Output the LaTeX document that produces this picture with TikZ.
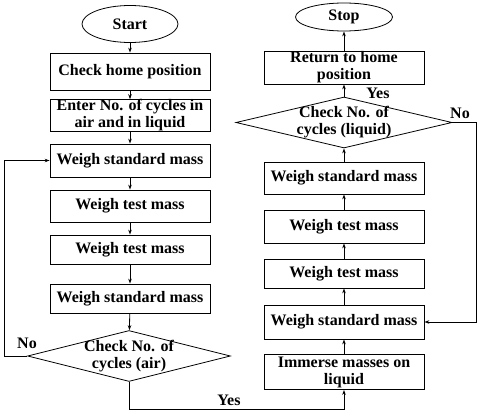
\documentclass[tikz,border=0pt]{standalone}
\usepackage{fontspec}
\setmainfont{Liberation Serif}
\usetikzlibrary{arrows.meta,positioning,shapes.geometric}

\begin{document}
\begin{tikzpicture}[x=1pt, y=-1pt, >={Stealth[length=5pt,width=3.5pt]},
  every node/.style={font=\fontsize{16}{17}\selectfont\bfseries},
  procbox/.style={draw, line width=0.8pt, minimum width=160pt, inner sep=0pt, align=center},
  termbox/.style={draw, ellipse, line width=0.8pt, inner sep=0pt},
  decbox/.style={draw, diamond, line width=0.8pt, inner sep=0pt},
  flow/.style={->, line width=0.8pt}]

\useasboundingbox (0,0) rectangle (480,412);

% Left column: air cycles
\node[termbox, minimum width=96pt, minimum height=37pt] (start) at (130,24) {Start};
\node[procbox, minimum height=37pt] (home) at (130,71.5) {Check home position};
\node[procbox, minimum height=31pt] (enter) at (130,115.5) {Enter No. of cycles in\\air and in liquid};
\node[procbox, minimum height=33pt] (wsmA) at (130,160.5) {Weigh standard mass};
\node[procbox, minimum height=32pt] (wtmA) at (130,206) {Weigh test mass};
\node[procbox, minimum height=29pt] (wtmB) at (130,249.5) {Weigh test mass};
\node[procbox, minimum height=29pt] (wsmB) at (130,298.5) {Weigh standard mass};
\node[decbox, minimum width=203pt, minimum height=51pt,
  label={[align=center]center:Check No. of\\cycles (air)}] (air) at (129,356) {};

% Right column: liquid cycles
\node[termbox, minimum width=97pt, minimum height=28pt] (stop) at (344,17) {Stop};
\node[procbox, minimum height=33pt] (ret) at (344,67.5) {Return to home\\position};
\node[decbox, minimum width=216pt, minimum height=51pt,
  label={[align=center]center:Check No. of\\cycles (liquid)}] (liq) at (344,122.5) {};
\node[procbox, minimum height=32pt] (wsmC) at (344,178) {Weigh standard mass};
\node[procbox, minimum height=33pt] (wtmC) at (344,226.5) {Weigh test mass};
\node[procbox, minimum height=29pt] (wtmD) at (344,273.5) {Weigh test mass};
\node[procbox, minimum height=34pt] (wsmD) at (344,322) {Weigh standard mass};
\node[procbox, minimum height=35pt] (imm) at (344,372) {Immerse masses on\\liquid};

% Straight arrows
\foreach \a/\b in {start/home, home/enter, enter/wsmA, wsmA/wtmA, wtmA/wtmB, wtmB/wsmB, wsmB/air,
                   imm/wsmD, wsmD/wtmD, wtmD/wtmC, wtmC/wsmC, wsmC/liq, liq/ret, ret/stop}{
  \draw[flow] (\a) -- (\b);
}

% Loops
\coordinate (lx) at (4,0);
\coordinate (rx) at (476,0);
\coordinate (yb) at (0,409);
\draw[flow] (air.west) -- (air.west -| lx) |- (wsmA.west);
\draw[flow] (air.south) -- (air.south |- yb) -| (imm.south);
\draw[flow] (liq.east) -- (liq.east -| rx) |- (wsmD.east);

% Branch labels
\node (noA) at (27,343) {No};
\node (yesA) at (229,400) {Yes};
\node (yesB) at (378,93) {Yes};
\node (noB) at (460,113) {No};

\end{tikzpicture}
\end{document}
